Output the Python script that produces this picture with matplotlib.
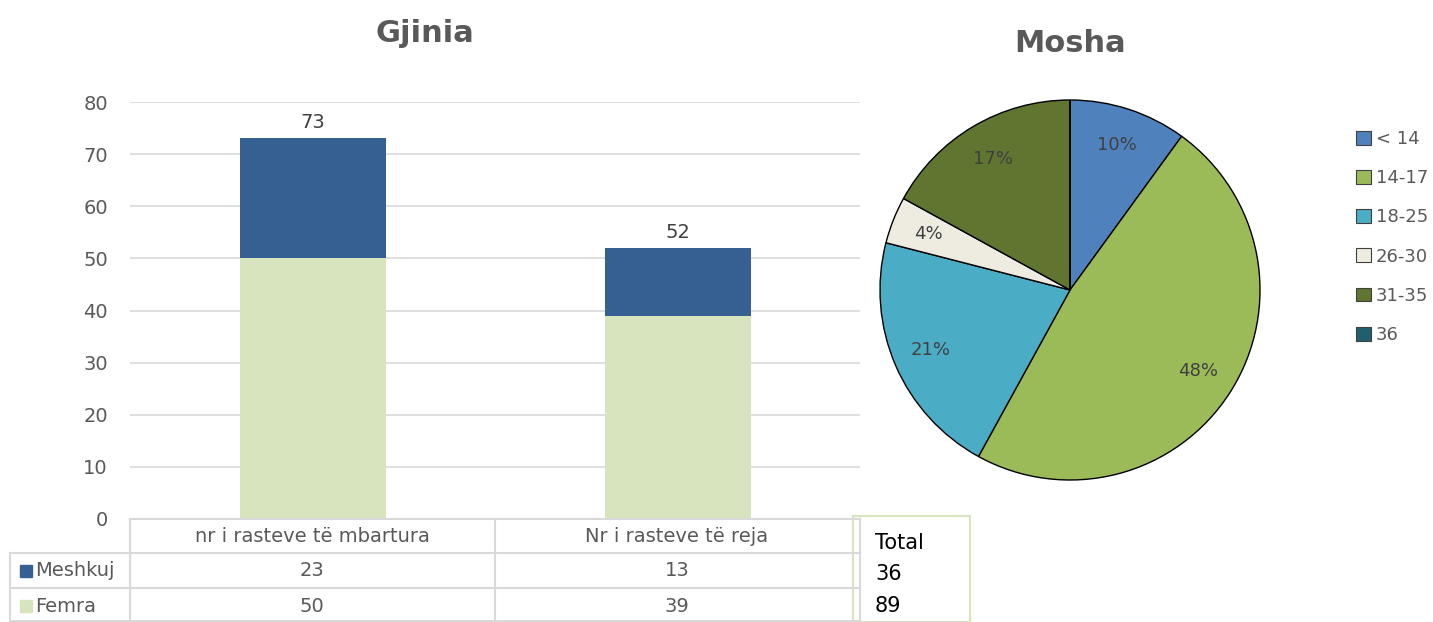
import matplotlib.pyplot as plt
from matplotlib.patches import Rectangle
from matplotlib.lines import Line2D

# --- data ---
categories = ["nr i rasteve të mbartura", "Nr i rasteve të reja"]
femra = [50, 39]
meshkuj = [23, 13]
totals = [36, 89]

age_groups = ["< 14", "14-17", "18-25", "26-30", "31-35", "36"]
age_pct = [10, 48, 21, 4, 17, 0]

c_femra = "#d7e4bd"
c_meshkuj = "#376092"
pie_colors = ["#4f81bd", "#9bbb59", "#4bacc6", "#eeece1", "#607530", "#1f5f70"]
gray = "#595959"
grid = "#d9d9d9"

W, H = 1433, 622
plt.rcParams["font.family"] = "DejaVu Sans"
fig = plt.figure(figsize=(W / 100, H / 100), dpi=100)


def px(x, y):
    # pixel position (from top-left) -> figure fraction
    return x / W, 1 - y / H


def hline(x0, x1, y, color=grid):
    fig.add_artist(Line2D([x0 / W, x1 / W], [1 - y / H] * 2, color=color, lw=1.5))


def vline(x, y0, y1, color=grid):
    fig.add_artist(Line2D([x / W] * 2, [1 - y0 / H, 1 - y1 / H], color=color, lw=1.5))


# ---- Gjinia: stacked bars ----
ax = fig.add_axes([130 / W, 103 / H, 730 / W, 417 / H])
x = range(len(categories))
ax.bar(x, femra, width=0.4, color=c_femra, zorder=2)
ax.bar(x, meshkuj, width=0.4, bottom=femra, color=c_meshkuj, zorder=2)
for i in x:
    tot = femra[i] + meshkuj[i]
    ax.text(i, tot + 1.2, str(tot), ha="center", va="bottom", fontsize=14, color="#404040")
ax.set_xlim(-0.5, 1.5)
ax.set_ylim(0, 80)
ax.set_yticks(range(0, 81, 10))
ax.yaxis.grid(True, color=grid, linewidth=1.2, zorder=0)
ax.tick_params(axis="y", length=0, labelsize=14, labelcolor=gray, pad=16)
ax.set_xticks([])
for s in ax.spines.values():
    s.set_visible(False)
fig.text(*px(425, 33), "Gjinia", ha="center", va="center",
         fontsize=22, fontweight="bold", color=gray)

# data table under the bars (drawn by hand)
hline(130, 860, 519)
hline(10, 860, 553)
hline(10, 860, 588)
hline(10, 860, 621)
for xv in (130, 495, 860):
    vline(xv, 519, 622)
vline(10, 553, 622)
col_centres = [312, 677]
for j, cat in enumerate(categories):
    fig.text(*px(col_centres[j], 537), cat, ha="center", va="center", fontsize=14, color=gray)
rows = [("Meshkuj", meshkuj, c_meshkuj, 571), ("Femra", femra, c_femra, 606)]
for name, vals, col, yy in rows:
    fig.patches.append(Rectangle((20 / W, 1 - (yy + 6) / H), 12 / W, 12 / H,
                                 transform=fig.transFigure, color=col))
    fig.text(*px(35, yy), name, ha="left", va="center", fontsize=14, color=gray)
    for j, v in enumerate(vals):
        fig.text(*px(col_centres[j], yy), str(v), ha="center", va="center", fontsize=14, color=gray)

# Total box
fig.patches.append(Rectangle((853 / W, 0), 117 / W, 106 / H, transform=fig.transFigure,
                             facecolor="none", edgecolor="#d7e4bd", linewidth=1.5))
fig.text(*px(875, 543), "Total", ha="left", va="center", fontsize=15, color="black")
for i, t in enumerate(totals):
    fig.text(*px(875, 574 + i * 32), str(t), ha="left", va="center",
             fontsize=15, color="black")

# ---- Mosha: pie ----
ax2 = fig.add_axes([880 / W, 142 / H, 380 / W, 380 / H])
wedges, texts, autotexts = ax2.pie(
    age_pct, colors=pie_colors, startangle=90, counterclock=False,
    autopct=lambda p: f"{p:.0f}%" if p > 0 else "", pctdistance=0.8,
    wedgeprops=dict(edgecolor="black", linewidth=1),
    textprops=dict(fontsize=13, color="#404040"))
ax2.set_xlim(-1, 1)
ax2.set_ylim(-1, 1)
fig.text(*px(1070, 43), "Mosha", ha="center", va="center",
         fontsize=22, fontweight="bold", color=gray)

handles = [Rectangle((0, 0), 1, 1, facecolor=c, edgecolor="#404040", linewidth=0.8) for c in pie_colors]
fig.legend(handles, age_groups, loc="upper left", bbox_to_anchor=px(1340, 114),
           frameon=False, fontsize=13, labelcolor=gray, handlelength=0.8, handleheight=0.8,
           handletextpad=0.3, labelspacing=1.17)

fig.savefig("out.png", dpi=100)
